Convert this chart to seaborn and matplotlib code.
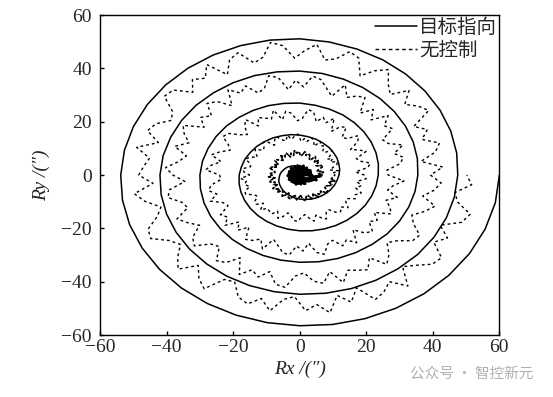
import numpy as np
import pandas as pd
import matplotlib
matplotlib.use("Agg")
import matplotlib.pyplot as plt
import seaborn as sns

# 1. Values (radius in arcsec, angle in degrees, counter-clockwise)
target_angle_deg = np.arange(0, 1801, 10)
target_radius = [
    0.0, 0.3, 0.7, 1.0, 1.3, 1.7, 2.0, 2.3, 2.7,
    3.0, 3.3, 3.7, 4.0, 4.3, 4.7, 5.0, 5.3, 5.7,
    6.0, 6.3, 6.7, 7.0, 7.3, 7.7, 8.0, 8.3, 8.7,
    9.0, 9.3, 9.6, 9.9, 10.2, 10.5, 10.8, 11.1, 11.4,
    11.8, 12.2, 12.5, 12.9, 13.2, 13.6, 13.9, 14.3, 14.6,
    15.0, 15.4, 15.7, 16.1, 16.4, 16.8, 17.1, 17.5, 17.8,
    18.2, 18.5, 18.8, 19.1, 19.4, 19.7, 20.0, 20.3, 20.6,
    20.9, 21.2, 21.5, 21.8, 22.1, 22.4, 22.7, 23.0, 23.3,
    23.6, 24.0, 24.4, 24.8, 25.2, 25.6, 26.0, 26.3, 26.6,
    27.0, 27.3, 27.7, 28.0, 28.3, 28.7, 29.0, 29.3, 29.7,
    30.0, 30.3, 30.6, 30.9, 31.2, 31.5, 31.8, 32.1, 32.4,
    32.7, 33.0, 33.3, 33.6, 33.9, 34.3, 34.6, 34.9, 35.2,
    35.5, 35.9, 36.3, 36.7, 37.1, 37.5, 37.9, 38.3, 38.7,
    39.0, 39.3, 39.7, 40.0, 40.3, 40.7, 41.0, 41.3, 41.7,
    42.0, 42.3, 42.6, 42.9, 43.2, 43.5, 43.8, 44.1, 44.4,
    44.7, 45.0, 45.3, 45.6, 45.9, 46.3, 46.6, 46.9, 47.2,
    47.5, 47.9, 48.3, 48.7, 49.1, 49.5, 49.9, 50.3, 50.7,
    51.1, 51.4, 51.7, 52.0, 52.3, 52.6, 52.9, 53.2, 53.5,
    53.8, 54.1, 54.4, 54.7, 55.0, 55.3, 55.6, 55.9, 56.2,
    56.5, 56.9, 57.3, 57.7, 58.1, 58.5, 58.9, 59.3, 59.7,
    60.0,
]

free_angle_deg = np.arange(-360, 1801, 4)
free_radius = [
    # centre blob (-360 .. -4 deg)
    3.6, 1.5, 0.6, 2.2, 3.4, 1.0, 2.6, 3.6, 0.7, 0.4,
    2.5, 3.1, 1.7, 3.4, 1.2, 0.6, 3.0, 2.0, 3.6, 0.9,
    2.5, 0.4, 3.3, 2.6, 1.5, 3.6, 0.6, 1.7, 3.1, 3.4,
    1.0, 2.3, 0.4, 3.0, 3.6, 1.4, 0.7, 2.8, 1.8, 3.4,
    0.4, 2.5, 3.3, 1.0, 2.2, 0.6, 3.6, 2.6, 1.2, 3.1,
    0.7, 1.7, 3.6, 2.3, 0.4, 3.0, 3.4, 1.5, 0.9, 3.3,
    2.0, 0.6, 2.8, 3.6, 1.4, 0.7, 3.1, 2.5, 0.4, 3.4,
    1.7, 2.6, 1.0, 3.3, 3.6, 1.2, 0.6, 2.3, 3.0, 0.9,
    3.6, 2.4, 3.2, 4.2, 2.9, 5.3, 4.6, 3.4, 4.5, 6.2,
    # turn 1 (0 .. 356 deg)
    6.5, 5.4, 7.2, 6.5, 5.4, 6.1, 7.4, 7.7, 6.5, 6.0,
    7.1, 8.0, 6.6, 7.7, 8.4, 6.7, 6.6, 8.0, 8.5, 7.7,
    8.9, 7.6, 7.3, 8.9, 8.3, 9.3, 7.6, 8.6, 7.3, 9.1,
    8.7, 8.0, 9.3, 7.4, 8.1, 9.0, 9.2, 7.7, 8.5, 7.3,
    8.9, 9.3, 7.9, 7.5, 8.8, 8.3, 9.4, 7.5, 8.8, 9.3,
    7.9, 8.6, 7.6, 9.5, 8.9, 8.0, 9.2, 7.7, 8.3, 9.5,
    8.7, 7.5, 9.1, 9.4, 8.2, 7.8, 9.3, 8.5, 7.6, 9.1,
    9.7, 8.3, 8.0, 9.6, 9.2, 8.0, 10.0, 8.9, 9.6, 8.7,
    10.1, 10.4, 9.0, 8.6, 9.8, 10.3, 9.0, 10.8, 9.6, 10.0,
    # turn 2 (360 .. 716 deg)
    10.6, 9.8, 11.8, 9.2, 10.4, 11.9, 12.4, 10.4, 11.7, 10.2,
    12.6, 13.4, 11.5, 11.2, 13.2, 12.6, 14.1, 11.6, 13.6, 14.5,
    12.8, 13.8, 12.6, 15.4, 14.8, 13.6, 15.4, 13.4, 14.3, 16.1,
    15.1, 13.5, 15.8, 16.5, 14.9, 14.4, 16.6, 15.6, 14.4, 16.5,
    17.3, 15.4, 15.1, 17.3, 16.8, 15.1, 17.8, 16.2, 17.0, 15.6,
    17.5, 17.8, 15.6, 15.0, 16.6, 17.1, 15.2, 17.6, 15.8, 16.3,
    16.8, 15.1, 17.5, 16.4, 14.6, 15.4, 17.1, 17.4, 15.7, 14.9,
    16.4, 17.8, 15.8, 17.3, 18.3, 15.9, 15.7, 17.7, 18.4, 17.2,
    19.0, 17.1, 16.6, 18.9, 18.2, 19.7, 17.5, 19.0, 17.3, 20.0,
    # turn 3 (720 .. 1076 deg)
    19.5, 16.8, 20.7, 21.7, 18.9, 18.1, 21.8, 20.1, 18.0, 21.6,
    23.0, 19.7, 19.0, 22.7, 21.9, 18.9, 23.7, 21.2, 22.8, 20.6,
    24.0, 24.7, 21.2, 20.4, 23.3, 24.3, 21.4, 25.6, 22.7, 23.8,
    24.9, 22.2, 26.4, 24.7, 21.9, 23.5, 26.6, 27.2, 24.3, 22.9,
    25.5, 27.6, 24.2, 26.8, 28.3, 24.1, 23.7, 26.9, 28.0, 25.9,
    28.6, 25.3, 24.4, 28.1, 26.8, 29.3, 25.3, 27.8, 24.8, 29.1,
    28.3, 26.7, 29.9, 25.4, 27.2, 29.5, 30.1, 26.6, 28.5, 25.7,
    29.5, 30.6, 27.2, 26.4, 29.5, 28.1, 30.6, 26.0, 29.2, 30.4,
    27.2, 28.8, 26.4, 31.1, 29.7, 27.6, 30.5, 27.0, 28.4, 31.4,
    # turn 4 (1080 .. 1436 deg)
    26.6, 26.3, 30.4, 31.9, 29.5, 33.0, 29.1, 28.2, 32.9, 31.4,
    34.7, 29.8, 33.1, 29.5, 35.1, 34.2, 32.4, 36.5, 31.1, 33.5,
    36.4, 37.3, 33.1, 35.6, 32.2, 37.1, 38.4, 34.3, 33.2, 37.2,
    35.5, 38.6, 33.0, 37.1, 38.7, 34.6, 36.8, 33.9, 39.7, 38.0,
    35.4, 39.1, 34.8, 36.7, 40.4, 38.1, 34.6, 39.5, 40.5, 36.9,
    35.8, 40.4, 38.1, 35.5, 39.8, 41.3, 37.2, 36.1, 40.7, 39.6,
    35.8, 41.5, 38.3, 40.2, 37.3, 41.6, 42.3, 37.9, 36.7, 40.0,
    41.2, 37.3, 42.4, 38.5, 39.7, 41.0, 37.4, 42.5, 40.1, 36.5,
    38.3, 41.9, 42.5, 38.7, 36.9, 39.9, 42.3, 37.8, 40.8, 42.6,
    # turn 5 (1440 .. 1800 deg)
    39.3, 43.1, 36.8, 41.7, 43.7, 39.1, 42.0, 38.8, 45.7, 44.0,
    41.2, 45.7, 40.7, 43.2, 47.7, 45.2, 41.4, 47.3, 48.7, 44.9,
    43.8, 49.3, 46.8, 43.9, 48.8, 50.5, 45.6, 44.2, 49.5, 48.1,
    43.5, 50.0, 46.1, 48.2, 44.7, 49.6, 50.3, 45.1, 43.7, 47.3,
    48.7, 44.2, 50.1, 45.6, 47.0, 48.4, 44.2, 50.2, 47.5, 43.4,
    45.6, 49.9, 50.7, 46.3, 44.3, 47.9, 50.8, 45.6, 49.2, 51.4,
    45.2, 44.6, 49.3, 50.8, 47.7, 51.7, 46.9, 45.6, 50.9, 48.8,
    52.4, 46.5, 50.1, 45.6, 51.9, 50.6, 48.2, 52.8, 46.2, 48.7,
    52.0, 52.7, 47.5, 50.3, 46.2, 51.8, 53.3, 48.5, 47.1, 51.8,
    50.2,
]

series_labels = ["目标指向", "无控制"]
axis_ticks = [-60, -40, -20, 0, 20, 40, 60]

# 2. Polar -> Rx / Ry
def to_xy(angle_deg, radius):
    a = np.deg2rad(np.asarray(angle_deg, dtype=float))
    r = np.asarray(radius, dtype=float)
    return pd.DataFrame({"Rx": r * np.cos(a), "Ry": r * np.sin(a), "deg": angle_deg})

df_target = to_xy(target_angle_deg, target_radius)
df_free = to_xy(free_angle_deg, free_radius)

# 3. Plot
sns.set_style("ticks")
plt.rcParams["font.family"] = ["Liberation Serif", "DejaVu Serif"]
plt.rcParams["axes.linewidth"] = 1.0

fig = plt.figure(figsize=(5.53, 3.97), dpi=100)
ax = fig.add_axes([0.181, 0.156, 0.722, 0.806])

sns.lineplot(data=df_target, x="Rx", y="Ry", sort=False, estimator=None,
             color="black", linewidth=1.1, ax=ax, label=series_labels[0])
sns.lineplot(data=df_free, x="Rx", y="Ry", sort=False, estimator=None,
             color="black", linewidth=1.0, linestyle=(0, (2.0, 2.2)), ax=ax,
             label=series_labels[1])
# the dense scribble in the middle reads as a solid blob and a dark ring
sns.lineplot(data=df_free[df_free["deg"] <= 0], x="Rx", y="Ry", sort=False,
             estimator=None, color="black", linewidth=2.2, ax=ax, legend=False)
sns.lineplot(data=df_free[(df_free["deg"] >= 0) & (df_free["deg"] < 360)], x="Rx", y="Ry",
             sort=False, estimator=None, color="black", linewidth=1.2,
             linestyle=(0, (1.5, 1.0)), ax=ax, legend=False)

ax.set_xlim(-60, 60)
ax.set_ylim(-60, 60)
ax.set_xticks(axis_ticks)
ax.set_yticks(axis_ticks)
ax.tick_params(direction="in", length=3, width=1, labelsize=14, color="black")
ax.tick_params(axis="x", pad=3)
ax.tick_params(axis="y", pad=6)
for side in ["top", "right", "bottom", "left"]:
    ax.spines[side].set_visible(True)
    ax.spines[side].set_color("black")

ax.set_xlabel("Rx /(″)", fontsize=14, fontstyle="italic", labelpad=3)
ax.set_ylabel("Ry /(″)", fontsize=14, fontstyle="italic", labelpad=8)

leg = ax.legend(loc="upper right", bbox_to_anchor=(1.0, 1.0), borderaxespad=0,
                borderpad=0.1, frameon=False, handlelength=2.2, handletextpad=0.1,
                labelspacing=0.1, prop={"family": ["Noto Sans CJK SC", "DejaVu Sans"], "size": 14})
leg.get_lines()[1].set_linestyle((0, (2.6, 2.2)))

fig.text(0.742, 0.06, "公众号 · 智控新元", fontsize=10.5, color="#b0b0b0",
         family=["Noto Sans CJK SC", "DejaVu Sans"], va="center", ha="left")

fig.savefig("out.png", dpi=100)
